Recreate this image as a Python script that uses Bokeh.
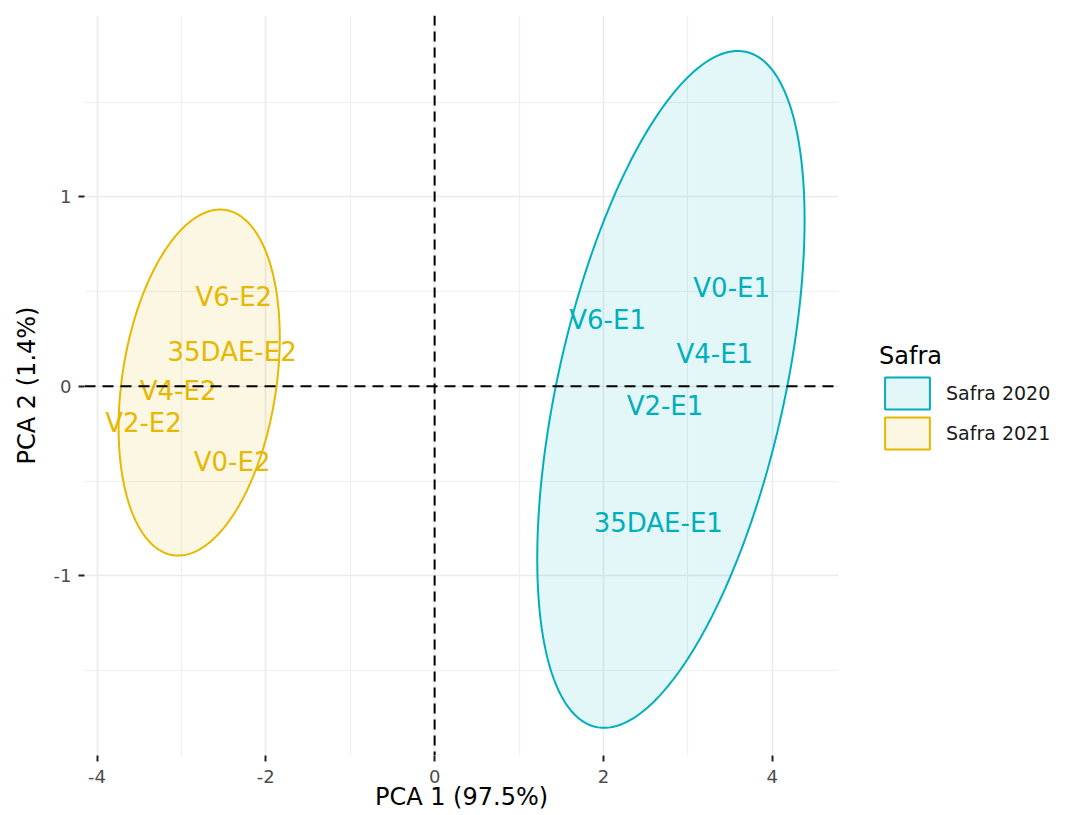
import numpy as np
from bokeh.plotting import figure
from bokeh.models import Range1d, FixedTicker, Span, Legend, LegendItem, ColumnDataSource
from bokeh.core.properties import value
from bokeh.embed import file_html
from bokeh.resources import INLINE

# ---- data ----
groups = ["Safra 2020", "Safra 2021"]
colors = ["#00AFBB", "#E7B800"]

labels_2020 = ["V0-E1", "V6-E1", "V4-E1", "V2-E1", "35DAE-E1"]
pc1_2020 = [3.52, 2.05, 3.32, 2.73, 2.65]
pc2_2020 = [0.52, 0.35, 0.17, -0.105, -0.72]

labels_2021 = ["V6-E2", "35DAE-E2", "V4-E2", "V2-E2", "V0-E2"]
pc1_2021 = [-2.38, -2.40, -3.04, -3.45, -2.40]
pc2_2021 = [0.47, 0.18, -0.026, -0.195, -0.40]

# confidence ellipses: centre, half extent along PC1 / PC2, correlation
ell_cx = [2.80, -2.79]
ell_cy = [-0.016, 0.02]
ell_rx = [1.584, 0.955]
ell_ry = [1.786, 0.913]
ell_rho = [0.50, 0.26]

x_ticks = [-4, -2, 0, 2, 4]
x_minor = [-3, -1, 1, 3]
y_ticks = [-1, 0, 1]
y_minor = [-1.5, -0.5, 0.5, 1.5]

FONT = "DejaVu Sans"

p = figure(frame_width=754, frame_height=740,
           x_range=Range1d(-4.149, 4.786), y_range=Range1d(-1.948, 1.957),
           output_backend="svg", toolbar_location=None,
           min_border_left=84, min_border_right=0, min_border_top=15, min_border_bottom=30,
           background_fill_color="white", border_fill_color="white")
p.outline_line_color = None

# grids
p.xaxis.ticker = FixedTicker(ticks=x_ticks, minor_ticks=x_minor)
p.yaxis.ticker = FixedTicker(ticks=y_ticks, minor_ticks=y_minor)
p.xaxis.major_label_overrides = {v: str(v) for v in x_ticks}
p.yaxis.major_label_overrides = {v: str(v) for v in y_ticks}
for g in (p.xgrid, p.ygrid):
    g.grid_line_color = "#EBEBEB"
    g.grid_line_width = 1.6
    g.minor_grid_line_color = "#EFEFEF"
    g.minor_grid_line_width = 1.2

for ax in (p.xaxis, p.yaxis):
    ax.axis_line_color = None
    ax.minor_tick_line_color = None
    ax.major_tick_line_color = "#222222"
    ax.major_tick_line_width = 2
    ax.major_tick_in = 0
    ax.major_tick_out = 6
    ax.major_label_text_font = FONT
    ax.major_label_text_font_size = "18px"
    ax.major_label_text_color = "#4D4D4D"
    ax.axis_label_text_font = FONT
    ax.axis_label_text_font_size = "24px"
    ax.axis_label_text_font_style = "normal"
    ax.axis_label_text_color = "black"

p.xaxis.axis_label = "PCA 1 (97.5%)"
p.yaxis.axis_label = "PCA 2 (1.4%)"
p.xaxis.major_label_standoff = 8
p.xaxis.axis_label_standoff = -3
p.yaxis.major_label_standoff = 7
p.yaxis.axis_label_standoff = 10

# ellipses
t = np.linspace(0, 2 * np.pi, 361)
renderers = []
for cx, cy, rx, ry, rho, col in zip(ell_cx, ell_cy, ell_rx, ell_ry, ell_rho, colors):
    phi = np.arccos(rho)
    ex = cx + rx * np.cos(t)
    ey = cy + ry * np.cos(t - phi)
    r = p.patch(ex, ey, fill_color=col, fill_alpha=0.11, line_color=col, line_width=2)
    renderers.append(r)

# reference lines
p.add_layout(Span(location=0, dimension="width", line_color="black", line_width=2, line_dash="11 7"))
p.add_layout(Span(location=0, dimension="height", line_color="black", line_width=2, line_dash="10 6"))

# point labels
for lab, xs, ys, col in [(labels_2020, pc1_2020, pc2_2020, colors[0]),
                         (labels_2021, pc1_2021, pc2_2021, colors[1])]:
    src = ColumnDataSource(dict(x=xs, y=ys, text=lab))
    p.text(x="x", y="y", text="text", source=src, text_color=col,
           text_align="center", text_baseline="middle",
           text_font=value(FONT), text_font_size="26px")

legend = Legend(items=[LegendItem(label=g, renderers=[r]) for g, r in zip(groups, renderers)],
                location=(41, 302), orientation="vertical")
legend.title = "Safra"
legend.title_text_font = FONT
legend.title_text_font_size = "24px"
legend.title_text_font_style = "normal"
legend.title_text_color = "black"
legend.title_standoff = 3
legend.label_text_font = FONT
legend.label_text_font_size = "19px"
legend.label_text_color = "#1A1A1A"
legend.glyph_width = 56
legend.glyph_height = 40
legend.label_height = 20
legend.label_width = 144
legend.label_standoff = 11
legend.spacing = 0
legend.padding = 6
legend.margin = 0
legend.border_line_color = None
legend.background_fill_alpha = 0
p.add_layout(legend, "right")

open("out.html", "w").write(file_html(p, INLINE))
